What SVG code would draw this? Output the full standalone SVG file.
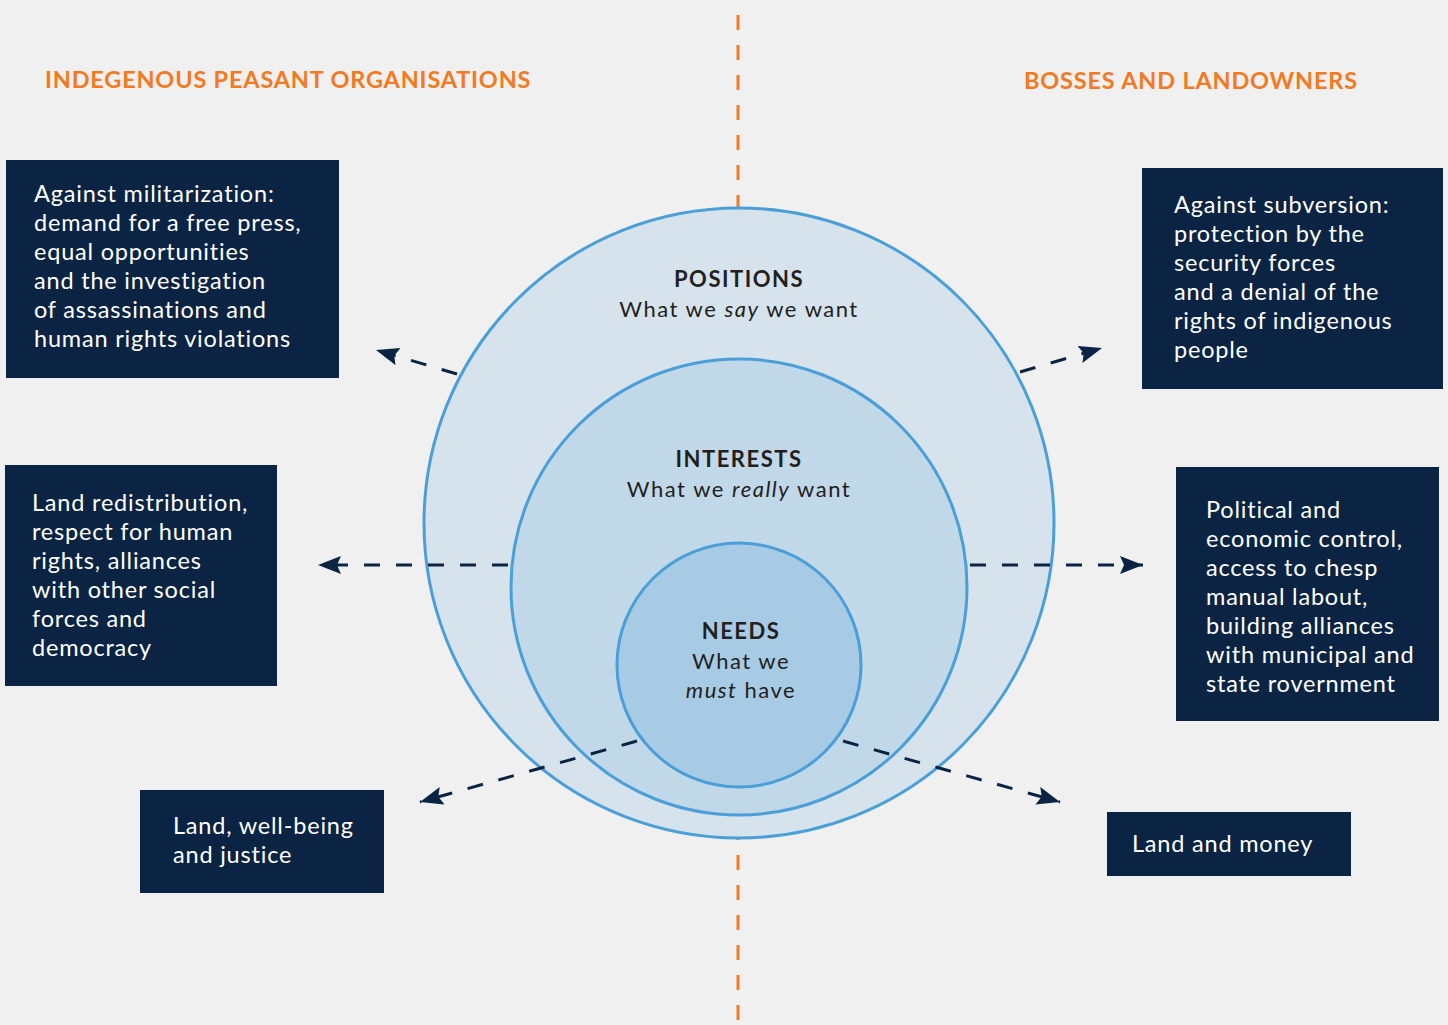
<svg xmlns="http://www.w3.org/2000/svg" width="1448" height="1025" viewBox="0 0 1448 1025">
<style>
.box{fill:#0b2443}
.bt{font-family:Lato,"Noto Sans",sans-serif;font-size:23.5px;letter-spacing:0.8px;fill:#ffffff}
.hd{font-family:Lato,"Noto Sans",sans-serif;font-size:23.5px;letter-spacing:0.8px;font-weight:bold;fill:#f47920}
.ct{font-family:Lato,"Noto Sans",sans-serif;font-size:22px;letter-spacing:1.5px;fill:#231f20;text-anchor:middle}
.cb{font-weight:bold}
.conn{stroke:#0b2443;stroke-width:3;stroke-dasharray:16 16;fill:none;marker-end:url(#ah)}
.circ{stroke:#4a9fd8;stroke-width:3}
</style>
<defs>
<marker id="ah" markerUnits="userSpaceOnUse" markerWidth="26" markerHeight="20" refX="23" refY="9" orient="auto">
<path d="M0,0 L23,9 L0,18 L4,9 Z" fill="#0b2443"/>
</marker>
</defs>
<rect width="1448" height="1025" fill="#f0f0f0"/>
<line x1="738" y1="15" x2="738" y2="1025" stroke="#f47920" stroke-width="3" stroke-dasharray="15 15"/>
<g id="circles">
<g id="positions"><circle class="circ" cx="739" cy="523" r="315" fill="#d6e3ec"/></g>
<g id="interests"><circle class="circ" cx="739" cy="587" r="228" fill="#c1d8e9"/></g>
<g id="needs"><circle class="circ" cx="739" cy="665" r="122" fill="#a7cbe4"/></g>
<text class="ct cb" x="739" y="287">POSITIONS</text>
<text class="ct" x="739" y="317">What we <tspan font-style="italic">say</tspan> we want</text>
<text class="ct cb" x="739" y="467">INTERESTS</text>
<text class="ct" x="739" y="497">What we <tspan font-style="italic">really</tspan> want</text>
<text class="ct cb" x="741" y="639">NEEDS</text>
<text class="ct" x="741" y="669">What we</text>
<text class="ct" x="741" y="698"><tspan font-style="italic">must</tspan> have</text>
</g>
<g id="headings">
<text class="hd" x="45" y="88">INDEGENOUS PEASANT ORGANISATIONS</text>
<text class="hd" x="1024" y="89">BOSSES AND LANDOWNERS</text>
</g>
<g id="connectors">
<line class="conn" x1="457" y1="374" x2="376" y2="350"/>
<line class="conn" x1="508" y1="565" x2="318" y2="565"/>
<line class="conn" x1="637" y1="741" x2="420" y2="802"/>
<line class="conn" x1="1020" y1="372" x2="1102" y2="348"/>
<line class="conn" x1="970" y1="565" x2="1143" y2="565"/>
<line class="conn" x1="843" y1="741" x2="1060" y2="802"/>
</g>
<g id="box1">
<rect class="box" x="6" y="160" width="333" height="218"/>
<text class="bt"><tspan x="34" y="202">Against militarization:</tspan><tspan x="34" y="231">demand for a free press,</tspan><tspan x="34" y="260">equal opportunities</tspan><tspan x="34" y="289">and the investigation</tspan><tspan x="34" y="318">of assassinations and</tspan><tspan x="34" y="347">human rights violations</tspan></text>
</g>
<g id="box2">
<rect class="box" x="5" y="465" width="272" height="221"/>
<text class="bt"><tspan x="32" y="511">Land redistribution,</tspan><tspan x="32" y="540">respect for human</tspan><tspan x="32" y="569">rights, alliances</tspan><tspan x="32" y="598">with other social</tspan><tspan x="32" y="627">forces and</tspan><tspan x="32" y="656">democracy</tspan></text>
</g>
<g id="box3">
<rect class="box" x="140" y="790" width="244" height="103"/>
<text class="bt"><tspan x="173" y="834">Land, well-being</tspan><tspan x="173" y="863">and justice</tspan></text>
</g>
<g id="box4">
<rect class="box" x="1142" y="168" width="301" height="221"/>
<text class="bt"><tspan x="1174" y="213">Against subversion:</tspan><tspan x="1174" y="242">protection by the</tspan><tspan x="1174" y="271">security forces</tspan><tspan x="1174" y="300">and a denial of the</tspan><tspan x="1174" y="329">rights of indigenous</tspan><tspan x="1174" y="358">people</tspan></text>
</g>
<g id="box5">
<rect class="box" x="1176" y="467" width="263" height="254"/>
<text class="bt"><tspan x="1206" y="518">Political and</tspan><tspan x="1206" y="547">economic control,</tspan><tspan x="1206" y="576">access to chesp</tspan><tspan x="1206" y="605">manual labout,</tspan><tspan x="1206" y="634">building alliances</tspan><tspan x="1206" y="663">with municipal and</tspan><tspan x="1206" y="692">state rovernment</tspan></text>
</g>
<g id="box6">
<rect class="box" x="1107" y="812" width="244" height="64"/>
<text class="bt"><tspan x="1132" y="852">Land and money</tspan></text>
</g>
</svg>
